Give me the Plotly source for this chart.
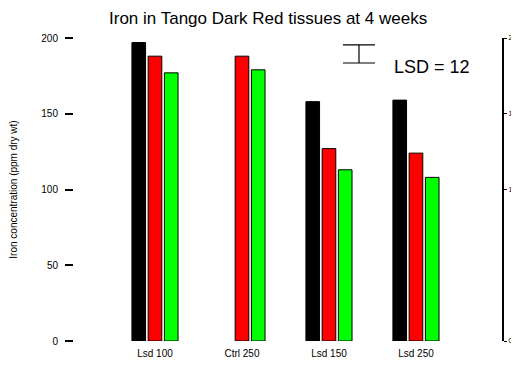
import plotly.graph_objects as go

categories = ["Lsd 100", "Ctrl 250", "Lsd 150", "Lsd 250"]
series_names = ["Week 1", "Week 2", "Week 3"]
black_vals = [197, None, 158, 159]
red_vals = [188, 188, 127, 124]
green_vals = [177, 179, 113, 108]
y_ticks = [0, 50, 100, 150, 200]
right_ticks = [0, 100, 150, 200]
lsd_value = 12

x_idx = list(range(len(categories)))
colors = ["#000000", "#FF0000", "#00FF00"]
FONT = "Liberation Sans, Arial, sans-serif"

fig = go.Figure()
for name, vals, col in zip(series_names, [black_vals, red_vals, green_vals], colors):
    fig.add_trace(go.Bar(
        x=x_idx, y=vals, name=name,
        marker=dict(color=col, line=dict(color="#000000", width=1)),
        showlegend=False,
    ))

# LSD indicator
fig.add_trace(go.Scatter(
    x=[2.345], y=[189.5], mode="markers",
    marker=dict(size=1, color="rgba(0,0,0,0)"),
    error_y=dict(type="data", array=[lsd_value / 2], arrayminus=[lsd_value / 2],
                 color="#000000", thickness=1.2, width=16),
    showlegend=False, hoverinfo="skip",
))
fig.add_annotation(x=3.18, y=181, text=f"LSD = {lsd_value}", showarrow=False,
                   font=dict(size=18, color="#000000", family=FONT))

# dummy trace to show right axis
fig.add_trace(go.Scatter(x=[0], y=[0], yaxis="y2", mode="markers",
                         marker=dict(size=1, color="rgba(0,0,0,0)"),
                         showlegend=False, hoverinfo="skip"))

fig.update_layout(
    width=511, height=364,
    paper_bgcolor="white", plot_bgcolor="white",
    margin=dict(l=66, r=17, t=30, b=31),
    barmode="group", bargap=0.44, bargroupgap=0.16,
    font=dict(family=FONT, color="#000000", size=10),
    title=dict(text="Iron in Tango Dark Red tissues at 4 weeks",
               x=0.509, xanchor="center", y=0.972, yanchor="middle",
               font=dict(size=17, family=FONT)),
    xaxis=dict(range=[-0.931, 3.989], tickvals=x_idx, ticktext=categories,
               showline=False, showgrid=False, zeroline=False, ticks="",
               ticklabelstandoff=5,
               tickfont=dict(size=10), automargin=False),
    yaxis=dict(range=[0, 200], tickvals=y_ticks, showline=False, showgrid=False,
               zeroline=False, ticks="outside", ticklen=8, tickcolor="#000000",
               tickwidth=1.5, ticklabelstandoff=5,
               tickfont=dict(size=10), automargin=False,
               title=dict(text="Iron concentration (ppm dry wt)", standoff=24,
                          font=dict(size=10))),
    yaxis2=dict(range=[0, 200], overlaying="y", side="right", showline=True,
                linecolor="#000000", linewidth=2, tickvals=right_ticks,
                ticks="outside", ticklen=3, tickcolor="#000000", showgrid=False,
                zeroline=False, tickfont=dict(size=7), automargin=False),
)

fig.write_html("out.html")
